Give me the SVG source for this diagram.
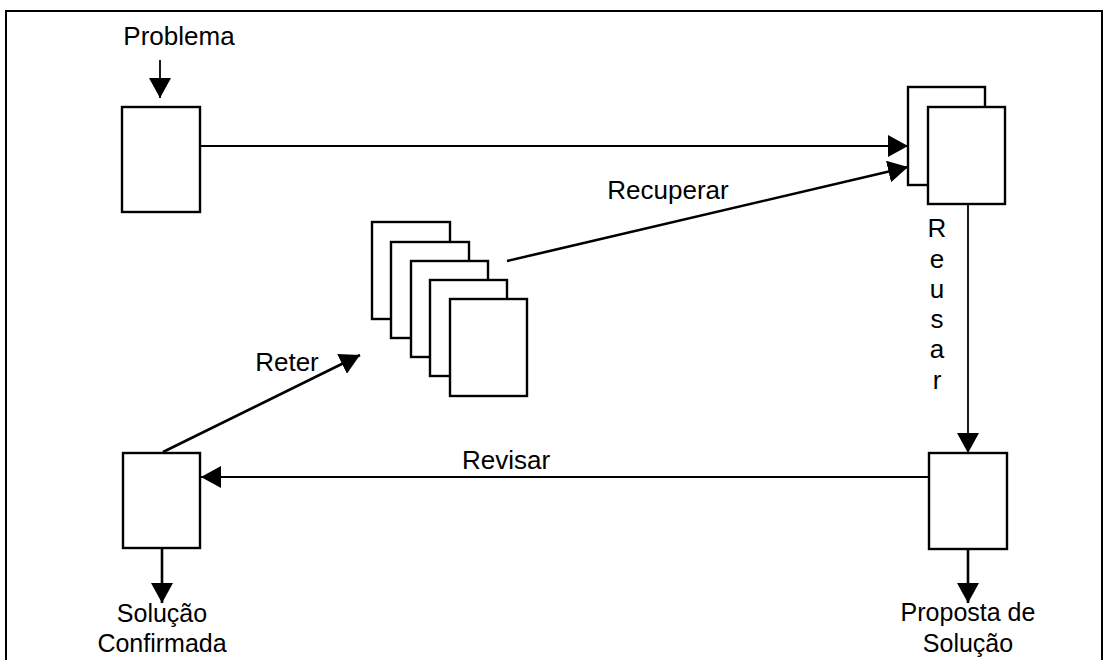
<svg xmlns="http://www.w3.org/2000/svg" width="1109" height="660" viewBox="0 0 1109 660">
<defs>
<style>
.frame{fill:none;stroke:#000;stroke-width:2}
.box{fill:#fff;stroke:#000;stroke-width:2.4}
.ln{fill:none;stroke:#000;stroke-width:1.8}
.dg{fill:none;stroke:#000;stroke-width:2.6}
.t{font-family:"Liberation Sans",Arial,sans-serif;font-size:26px;fill:#000}
.b{font-size:25px}
</style>
<marker id="ah" viewBox="0 0 20 22" refX="20" refY="11" markerWidth="20" markerHeight="22" markerUnits="userSpaceOnUse" orient="auto">
<path d="M0,0 L20,11 L0,22 Z" fill="#000"/>
</marker>
</defs>
<rect width="1109" height="660" fill="#fff"/>
<rect class="frame" x="6" y="11" width="1096" height="660"/>

<g id="connectors">
<line class="ln" x1="160" y1="60" x2="160" y2="98" marker-end="url(#ah)"/>
<line class="ln" x1="200" y1="146" x2="908" y2="146" marker-end="url(#ah)"/>
<line class="dg" x1="507" y1="261" x2="908" y2="167" marker-end="url(#ah)"/>
<line class="ln" x1="968" y1="204" x2="968" y2="453" marker-end="url(#ah)"/>
<line class="ln" x1="929" y1="477" x2="201" y2="477" marker-end="url(#ah)"/>
<line class="dg" x1="163" y1="452" x2="360" y2="355" marker-end="url(#ah)"/>
<line class="dg" x1="162" y1="548" x2="162" y2="603" marker-end="url(#ah)"/>
<line class="dg" x1="968" y1="549" x2="968" y2="603" marker-end="url(#ah)"/>
</g>

<g id="label-problema"><text class="t" x="179" y="45" text-anchor="middle">Problema</text></g>
<g id="node-problema"><rect class="box" x="122" y="107" width="78" height="105"/></g>

<g id="node-casos-recuperados">
<rect class="box" x="908" y="87" width="77" height="98"/>
<rect class="box" x="928" y="107" width="77" height="97"/>
</g>

<g id="node-base-casos">
<rect class="box" x="372" y="222" width="78" height="97"/>
<rect class="box" x="391" y="242" width="78" height="96"/>
<rect class="box" x="411" y="261" width="77" height="96"/>
<rect class="box" x="430" y="280" width="77" height="96"/>
<rect class="box" x="450" y="299" width="77" height="97"/>
</g>

<g id="node-solucao-confirmada"><rect class="box" x="123" y="453" width="77" height="95"/></g>
<g id="node-proposta"><rect class="box" x="929" y="453" width="78" height="96"/></g>

<g id="labels">
<text class="t" x="668" y="199" text-anchor="middle">Recuperar</text>
<text class="t" x="287" y="371" text-anchor="middle">Reter</text>
<text class="t" x="506" y="469" text-anchor="middle">Revisar</text>
<text class="t" text-anchor="middle"><tspan x="937" y="237">R</tspan><tspan x="937" y="268">e</tspan><tspan x="937" y="298">u</tspan><tspan x="937" y="328">s</tspan><tspan x="937" y="358">a</tspan><tspan x="937" y="389">r</tspan></text>
<text class="t b" x="162" y="622" text-anchor="middle">Solução</text>
<text class="t b" x="162" y="652" text-anchor="middle">Confirmada</text>
<text class="t b" x="968" y="621" text-anchor="middle">Proposta de</text>
<text class="t b" x="968" y="652" text-anchor="middle">Solução</text>
</g>
</svg>
